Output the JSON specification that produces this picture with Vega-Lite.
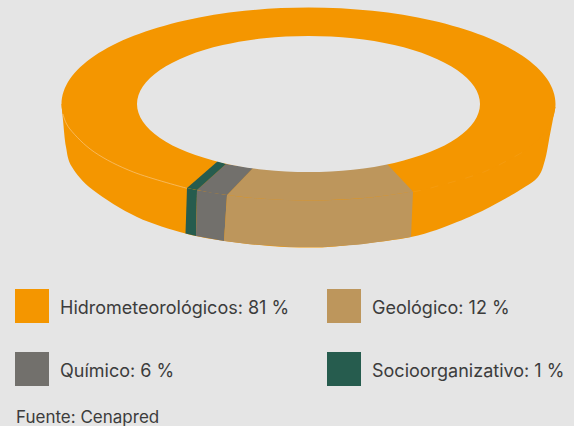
{"$schema":"https://vega.github.io/schema/vega-lite/v6.json","width":574,"height":426,"padding":0,"autosize":{"type":"none"},"background":"#e5e5e5","view":{"stroke":null},
"title":{"text":"Fuente: Cenapred","orient":"bottom","anchor":"start","frame":"group","offset":1,"dx":16,"font":"Inter","fontSize":17,"fontWeight":"normal","color":"#3c3c3c","baseline":"bottom"},
"datasets":{"shapes":[
{"part":"body","cat":"H","i":0,"x":61.5,"y":104},{"part":"body","cat":"H","i":1,"x":63,"y":120},{"part":"body","cat":"H","i":2,"x":66,"y":147},{"part":"body","cat":"H","i":3,"x":72,"y":167},{"part":"body","cat":"H","i":4,"x":93,"y":190},{"part":"body","cat":"H","i":5,"x":137,"y":217},{"part":"body","cat":"H","i":6,"x":185.5,"y":233.5},{"part":"body","cat":"H","i":7,"x":225,"y":241},{"part":"body","cat":"H","i":8,"x":270,"y":246},{"part":"body","cat":"H","i":9,"x":308,"y":247.5},{"part":"body","cat":"H","i":10,"x":340,"y":246},{"part":"body","cat":"H","i":11,"x":411,"y":237},{"part":"body","cat":"H","i":12,"x":457,"y":222},{"part":"body","cat":"H","i":13,"x":490,"y":207},{"part":"body","cat":"H","i":14,"x":520,"y":190},{"part":"body","cat":"H","i":15,"x":538,"y":177},{"part":"body","cat":"H","i":16,"x":545,"y":160},{"part":"body","cat":"H","i":17,"x":549,"y":140},{"part":"body","cat":"H","i":18,"x":553,"y":119},{"part":"body","cat":"H","i":19,"x":555.5,"y":107},
{"part":"sideS","cat":"S","i":0,"x":187,"y":188},{"part":"sideS","cat":"S","i":1,"x":197,"y":190},{"part":"sideS","cat":"S","i":2,"x":196,"y":236},{"part":"sideS","cat":"S","i":3,"x":185.5,"y":233.5},
{"part":"sideQ","cat":"Q","i":0,"x":197,"y":190},{"part":"sideQ","cat":"Q","i":1,"x":227,"y":195},{"part":"sideQ","cat":"Q","i":2,"x":224,"y":241},{"part":"sideQ","cat":"Q","i":3,"x":196,"y":236},
{"part":"sideG","cat":"G","i":0,"x":227,"y":195},{"part":"sideG","cat":"G","i":1,"x":413,"y":191.5},{"part":"sideG","cat":"G","i":2,"x":411,"y":237},{"part":"sideG","cat":"G","i":3,"x":385,"y":241},{"part":"sideG","cat":"G","i":4,"x":360,"y":244.5},{"part":"sideG","cat":"G","i":5,"x":325,"y":247},{"part":"sideG","cat":"G","i":6,"x":290,"y":247},{"part":"sideG","cat":"G","i":7,"x":250,"y":244.3},{"part":"sideG","cat":"G","i":8,"x":224,"y":241},
{"part":"top","cat":"H","i":0,"x":555.5,"y":104},{"part":"top","cat":"H","i":1,"x":547.1,"y":129},{"part":"top","cat":"H","i":2,"x":522.4,"y":152.25},{"part":"top","cat":"H","i":3,"x":483.2,"y":172.2},{"part":"top","cat":"H","i":4,"x":432,"y":187.6},{"part":"top","cat":"H","i":5,"x":372.4,"y":197.2},{"part":"top","cat":"H","i":6,"x":308.5,"y":200.5},{"part":"top","cat":"H","i":7,"x":244.6,"y":197.2},{"part":"top","cat":"H","i":8,"x":185,"y":187.6},{"part":"top","cat":"H","i":9,"x":133.8,"y":172.2},{"part":"top","cat":"H","i":10,"x":94.6,"y":152.25},{"part":"top","cat":"H","i":11,"x":69.9,"y":129},{"part":"top","cat":"H","i":12,"x":61.5,"y":104},{"part":"top","cat":"H","i":13,"x":69.9,"y":79},{"part":"top","cat":"H","i":14,"x":94.6,"y":55.75},{"part":"top","cat":"H","i":15,"x":133.8,"y":35.8},{"part":"top","cat":"H","i":16,"x":185,"y":20.4},{"part":"top","cat":"H","i":17,"x":244.6,"y":10.8},{"part":"top","cat":"H","i":18,"x":308.5,"y":7.5},{"part":"top","cat":"H","i":19,"x":372.4,"y":10.8},{"part":"top","cat":"H","i":20,"x":432,"y":20.4},{"part":"top","cat":"H","i":21,"x":483.2,"y":35.8},{"part":"top","cat":"H","i":22,"x":522.4,"y":55.75},{"part":"top","cat":"H","i":23,"x":547.1,"y":79},
{"part":"wedgeG","cat":"G","i":0,"x":413,"y":191.5},{"part":"wedgeG","cat":"G","i":1,"x":390,"y":195.1},{"part":"wedgeG","cat":"G","i":2,"x":370,"y":197.5},{"part":"wedgeG","cat":"G","i":3,"x":350,"y":199.1},{"part":"wedgeG","cat":"G","i":4,"x":330,"y":200.1},{"part":"wedgeG","cat":"G","i":5,"x":310,"y":200.5},{"part":"wedgeG","cat":"G","i":6,"x":290,"y":200.2},{"part":"wedgeG","cat":"G","i":7,"x":270,"y":199.3},{"part":"wedgeG","cat":"G","i":8,"x":250,"y":197.7},{"part":"wedgeG","cat":"G","i":9,"x":227,"y":195.1},{"part":"wedgeG","cat":"G","i":10,"x":253,"y":168},{"part":"wedgeG","cat":"G","i":11,"x":387,"y":164},
{"part":"wedgeQ","cat":"Q","i":0,"x":197,"y":190.1},{"part":"wedgeQ","cat":"Q","i":1,"x":212,"y":192.9},{"part":"wedgeQ","cat":"Q","i":2,"x":227,"y":195.1},{"part":"wedgeQ","cat":"Q","i":3,"x":253,"y":168},{"part":"wedgeQ","cat":"Q","i":4,"x":226,"y":164},
{"part":"wedgeS","cat":"S","i":0,"x":187,"y":188.1},{"part":"wedgeS","cat":"S","i":1,"x":197,"y":190.1},{"part":"wedgeS","cat":"S","i":2,"x":226,"y":164},{"part":"wedgeS","cat":"S","i":3,"x":218,"y":161},
{"part":"hole","i":0,"x":480,"y":104},{"part":"hole","i":1,"x":474.2,"y":121.6},{"part":"hole","i":2,"x":457,"y":138},{"part":"hole","i":3,"x":429.8,"y":152.1},{"part":"hole","i":4,"x":394.25,"y":162.9},{"part":"hole","i":5,"x":352.9,"y":169.7},{"part":"hole","i":6,"x":308.5,"y":172},{"part":"hole","i":7,"x":264.1,"y":169.7},{"part":"hole","i":8,"x":222.75,"y":162.9},{"part":"hole","i":9,"x":187.2,"y":152.1},{"part":"hole","i":10,"x":160,"y":138},{"part":"hole","i":11,"x":142.8,"y":121.6},{"part":"hole","i":12,"x":137,"y":104},{"part":"hole","i":13,"x":142.8,"y":86.4},{"part":"hole","i":14,"x":160,"y":70},{"part":"hole","i":15,"x":187.2,"y":55.9},{"part":"hole","i":16,"x":222.75,"y":45.1},{"part":"hole","i":17,"x":264.1,"y":38.3},{"part":"hole","i":18,"x":308.5,"y":36},{"part":"hole","i":19,"x":352.9,"y":38.3},{"part":"hole","i":20,"x":394.25,"y":45.1},{"part":"hole","i":21,"x":429.8,"y":55.9},{"part":"hole","i":22,"x":457,"y":70},{"part":"hole","i":23,"x":474.2,"y":86.4},
{"part":"seam","i":0,"x":63,"y":114},{"part":"seam","i":1,"x":69.9,"y":129},{"part":"seam","i":2,"x":94.6,"y":152.25},{"part":"seam","i":3,"x":133.8,"y":172.2},{"part":"seam","i":4,"x":187,"y":188.3},
{"part":"seamR","i":0,"x":413,"y":191.8},{"part":"seamR","i":1,"x":432,"y":187.6},{"part":"seamR","i":2,"x":483.2,"y":172.2},{"part":"seamR","i":3,"x":522.4,"y":152.25}
]},
"data":{"name":"shapes"},
"encoding":{"x":{"field":"x","type":"quantitative","scale":{"domain":[0,574],"nice":false,"zero":false},"axis":null},"y":{"field":"y","type":"quantitative","scale":{"domain":[426,0],"nice":false,"zero":false},"axis":null},"order":{"field":"i","type":"quantitative"}},
"layer":[
{"transform":[{"filter":"datum.part=='body'"}],"mark":{"type":"line","filled":true,"interpolate":"cardinal","strokeWidth":0},"encoding":{"color":{"field":"cat","type":"nominal"}}},
{"transform":[{"filter":"indexof(['sideS','sideQ','sideG'],datum.part)>=0"}],"mark":{"type":"line","filled":true,"strokeWidth":0},"encoding":{"color":{"field":"cat","type":"nominal"},"detail":{"field":"part"}}},
{"transform":[{"filter":"datum.part=='top'"}],"mark":{"type":"line","filled":true,"interpolate":"cardinal-closed","strokeWidth":0},"encoding":{"color":{"field":"cat","type":"nominal"}}},
{"transform":[{"filter":"indexof(['wedgeG','wedgeQ','wedgeS'],datum.part)>=0"}],"mark":{"type":"line","filled":true,"strokeWidth":0},"encoding":{"color":{"field":"cat","type":"nominal","scale":{"domain":["H","G","Q","S"],"range":["#f49600","#bd965c","#72706c","#265c4e"]},"legend":{"title":null,"orient":"none","legendX":15,"legendY":289,"direction":"horizontal","columns":2,"symbolType":"square","symbolSize":1156,"symbolStrokeWidth":0,"symbolOpacity":1,"labelExpr":"{'H':'Hidrometeorológicos: 81 %','G':'Geológico: 12 %','Q':'Químico: 6 %','S':'Socioorganizativo: 1 %'}[datum.label]","labelFont":"Inter","labelFontSize":18,"labelColor":"#3c3c3c","labelOffset":11,"labelLimit":300,"columnPadding":37,"rowPadding":29,"encode":{"labels":{"update":{"dy":{"value":3}}}}}},"detail":{"field":"part"}}},
{"transform":[{"filter":"datum.part=='hole'"}],"mark":{"type":"line","filled":true,"interpolate":"cardinal-closed","strokeWidth":0,"fill":"#e5e5e5"}},
{"transform":[{"filter":"datum.part=='seam'"}],"mark":{"type":"line","interpolate":"cardinal","stroke":"#f9cf94","strokeWidth":0.6}},
{"transform":[{"filter":"datum.part=='seamR'"}],"mark":{"type":"line","interpolate":"cardinal","stroke":"#f9cf94","strokeWidth":0.5,"opacity":0.2,"strokeDash":[8,10]}}
]}
